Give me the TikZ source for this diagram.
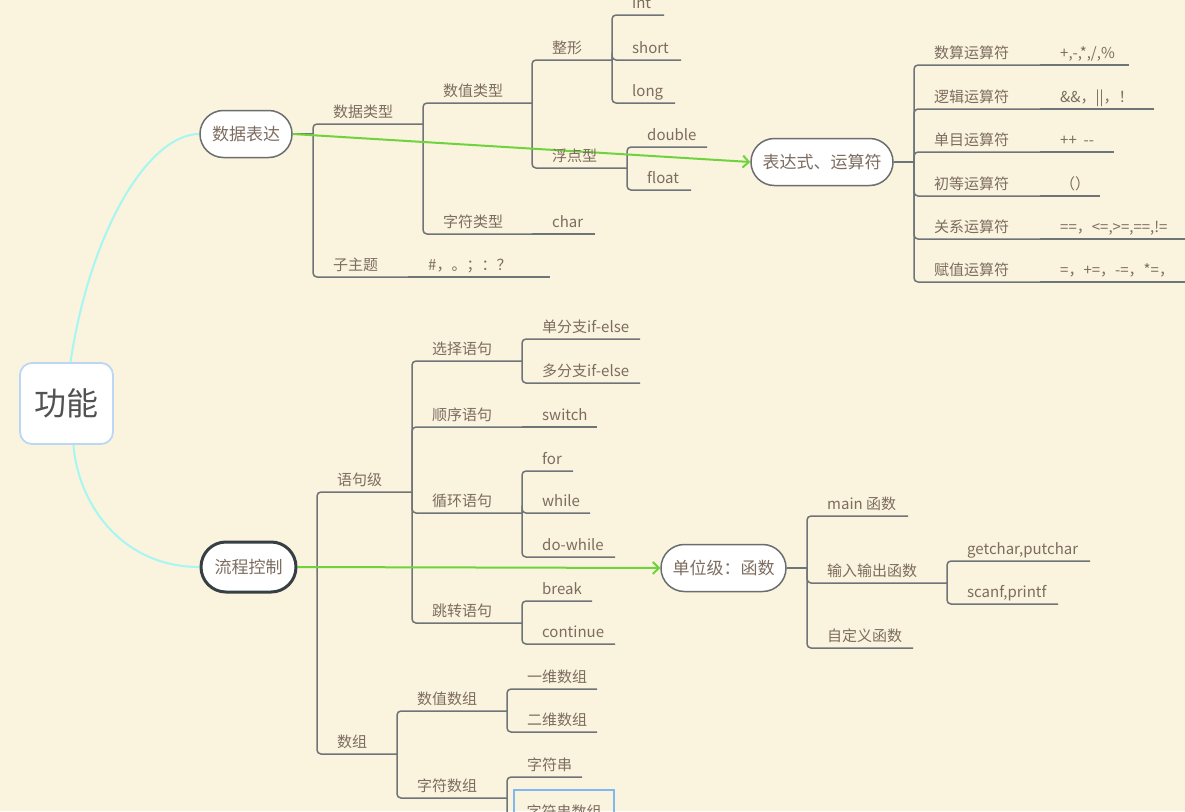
\documentclass[tikz,border=0pt]{standalone}
\usepackage{fontspec}
\setmainfont{Noto Sans CJK SC}
\usetikzlibrary{arrows.meta}
\pgfdeclarelayer{back}
\pgfdeclarelayer{lines}
\pgfsetlayers{back,lines,main}
\definecolor{bg}{HTML}{FAF3DD}
\definecolor{txt}{HTML}{7D6C60}
\definecolor{ln}{HTML}{6F7478}
\definecolor{grn}{HTML}{6FD33D}
\definecolor{cyn}{HTML}{A6F6F2}
\definecolor{rootb}{HTML}{BBD7F5}
\definecolor{selb}{HTML}{7FB9F0}
\definecolor{dk}{HTML}{363F43}
\definecolor{nb}{HTML}{6A6E70}
% name, x start, y of underline, x end, text
\newcommand\tpc[5]{%
  \coordinate (#1-s) at (#2,#3);
  \coordinate (#1-e) at (#4,#3);
  \node[tt,anchor=base west] (#1) at ({#2+20},{#3-6.5}) {#5};}
\tikzset{
  tt/.style={font=\fontsize{15}{18}\selectfont, text=txt, inner sep=0pt},
  br/.style={draw=ln, line width=1.5pt, rounded corners=4pt},
  pill/.style={rectangle, rounded corners=23.4pt, draw=nb, line width=1.5pt, fill=white, text=txt,
    font=\fontsize{17}{20}\selectfont, minimum height=47pt, inner sep=0pt},
  garrow/.style={draw=grn, line width=2pt, -{Straight Barb[length=6pt,width=12pt,line width=2pt]}},
  cyline/.style={draw=cyn, line width=2pt},
  rootbox/.style={draw=rootb, line width=1.8pt, fill=white, rounded corners=12pt,
    minimum width=93pt, minimum height=81pt, text=black!68, font=\fontsize{32}{36}\selectfont},
}
\begin{document}
\begin{tikzpicture}[x=1pt,y=-1pt]
\useasboundingbox (0,0) rectangle (1185,811);
\begin{pgfonlayer}{back}
\fill[bg] (0,0) rectangle (1185,811);
\end{pgfonlayer}
\clip (0,0) rectangle (1185,811);

% ---- main nodes
\node[rootbox] (root) at (66.5,403.5) {功能};
\node[pill, minimum width=92pt] (sjbd) at (246,134) {数据表达};
\node[pill, minimum width=95pt, minimum height=50pt, rounded corners=24.9pt, draw=dk, line width=3pt] (lckz) at (248.5,567) {流程控制};
\node[pill, minimum width=142pt] (bds) at (822,162) {表达式、运算符};
\node[pill, minimum width=125pt] (dwj) at (723.5,568) {单位级：函数};

% ---- topics: data branch
\coordinate (sjbd-sp) at (313,134);
\tpc{sjlx}{313}{124}{423}{数据类型}
\tpc{zzt}{313}{277}{408}{子主题}
\tpc{szlx}{423}{103}{532}{数值类型}
\tpc{zflx}{423}{234}{532}{字符类型}
\tpc{zx}{532}{60}{612}{整形}
\tpc{fdx}{532}{168}{627}{浮点型}
\tpc{tint}{612}{15}{664}{int}
\tpc{tshort}{612}{60}{681}{short}
\tpc{tlong}{612}{103}{675}{long}
\tpc{tdouble}{627}{147}{707}{double}
\tpc{tfloat}{627}{190}{691}{float}
\tpc{tchar}{532}{234}{595}{char}
\tpc{punct}{408}{277}{550}{\#，。；：？}

% ---- operators branch
\coordinate (bds-sp) at (914,162);
\tpc{op1}{914}{65}{1040}{数算运算符}
\tpc{op2}{914}{109}{1040}{逻辑运算符}
\tpc{op3}{914}{152}{1040}{单目运算符}
\tpc{op4}{914}{196}{1040}{初等运算符}
\tpc{op5}{914}{239}{1040}{关系运算符}
\tpc{op6}{914}{282}{1040}{赋值运算符}
\tpc{v1}{1040}{65}{1129}{+,-,*,/,\%}
\tpc{v2}{1040}{109}{1154}{\&\&，||，！}
\tpc{v3}{1040}{152}{1114}{++\ \ -{}-}
\tpc{v4}{1040}{196}{1100}{（）}
\tpc{v5}{1040}{239}{1200}{==，<=,>=,==,!=}
\tpc{v6}{1040}{282}{1200}{=，+=，-=，*=，}

% ---- flow control branch
\coordinate (lckz-sp) at (317,567);
\tpc{yjj}{317}{492}{412}{语句级}
\tpc{sz}{317}{754}{397}{数组}
\tpc{xzyj}{412}{361}{522}{选择语句}
\tpc{sxyj}{412}{427}{522}{顺序语句}
\tpc{xhyj}{412}{513}{522}{循环语句}
\tpc{tzyj}{412}{623}{522}{跳转语句}
\tpc{dfz}{522}{339}{640}{单分支if-else}
\tpc{dfzb}{522}{383}{640}{多分支if-else}
\tpc{tswitch}{522}{427}{597}{switch}
\tpc{tfor}{522}{471}{573}{for}
\tpc{twhile}{522}{513}{590}{while}
\tpc{tdowhile}{522}{557}{615}{do-while}
\tpc{tbreak}{522}{601}{592}{break}
\tpc{tcont}{522}{644}{615}{continue}
\tpc{szsz}{397}{711}{507}{数值数组}
\tpc{zfsz}{397}{798}{507}{字符数组}
\tpc{ywsz}{507}{689}{597}{一维数组}
\tpc{ewsz}{507}{732}{597}{二维数组}
\tpc{zfc}{507}{777}{582}{字符串}
\coordinate (zfcsz-e) at (614,836);
\node[draw=selb, line width=2pt, minimum width=100pt, minimum height=44pt, inner sep=0pt,
  text=txt, font=\fontsize{15}{18}\selectfont] (zfcsz) at (564,812) {字符串数组};

% ---- function branch
\coordinate (dwj-sp) at (807,568);
\tpc{tmain}{807}{516}{908}{main 函数}
\tpc{io}{807}{583}{947}{输入输出函数}
\tpc{zdy}{807}{648}{913}{自定义函数}
\tpc{getc}{947}{561}{1090}{getchar,putchar}
\tpc{scanf}{947}{604}{1058}{scanf,printf}

\begin{pgfonlayer}{lines}
% ---- connectors
\draw[br] (sjbd.east) -- (sjbd-sp);
\foreach \c in {sjlx,zzt} \draw[br] (sjbd-sp) |- (\c-e);
\foreach \c in {szlx,zflx} \draw[br] (sjlx-e) |- (\c-e);
\foreach \c in {zx,fdx} \draw[br] (szlx-e) |- (\c-e);
\foreach \c in {tint,tshort,tlong} \draw[br] (zx-e) |- (\c-e);
\foreach \c in {tdouble,tfloat} \draw[br] (fdx-e) |- (\c-e);
\draw[br] (zflx-e) -- (tchar-e);
\draw[br] (zzt-e) -- (punct-e);

\draw[br] (bds.east) -- (bds-sp);
\foreach \c in {op1,op2,op3,op4,op5,op6} \draw[br] (bds-sp) |- (\c-e);
\foreach \i in {1,...,6} \draw[br] (op\i-e) -- (v\i-e);

\draw[br] (lckz.east) -- (lckz-sp);
\foreach \c in {yjj,sz} \draw[br] (lckz-sp) |- (\c-e);
\foreach \c in {xzyj,sxyj,xhyj,tzyj} \draw[br] (yjj-e) |- (\c-e);
\foreach \c in {dfz,dfzb} \draw[br] (xzyj-e) |- (\c-e);
\draw[br] (sxyj-e) -- (tswitch-e);
\foreach \c in {tfor,twhile,tdowhile} \draw[br] (xhyj-e) |- (\c-e);
\foreach \c in {tbreak,tcont} \draw[br] (tzyj-e) |- (\c-e);
\foreach \c in {szsz,zfsz} \draw[br] (sz-e) |- (\c-e);
\foreach \c in {ywsz,ewsz} \draw[br] (szsz-e) |- (\c-e);
\foreach \c in {zfc,zfcsz} \draw[br] (zfsz-e) |- (\c-e);

\draw[br] (dwj.east) -- (dwj-sp);
\foreach \c in {tmain,io,zdy} \draw[br] (dwj-sp) |- (\c-e);
\foreach \c in {getc,scanf} \draw[br] (io-e) |- (\c-e);

% ---- cyan curves from root
\draw[cyline] ([xshift=4pt]root.north) .. controls +(20,-133) and +(-50,0) .. (sjbd.west);
\draw[cyline] ([xshift=7pt]root.south) .. controls +(4,56) and +(-80,0) .. (lckz.west);

% ---- green arrows
\draw[garrow] (sjbd.east) -- (bds.west);
\draw[garrow] (lckz.east) -- (dwj.west);
\end{pgfonlayer}
\end{tikzpicture}
\end{document}
